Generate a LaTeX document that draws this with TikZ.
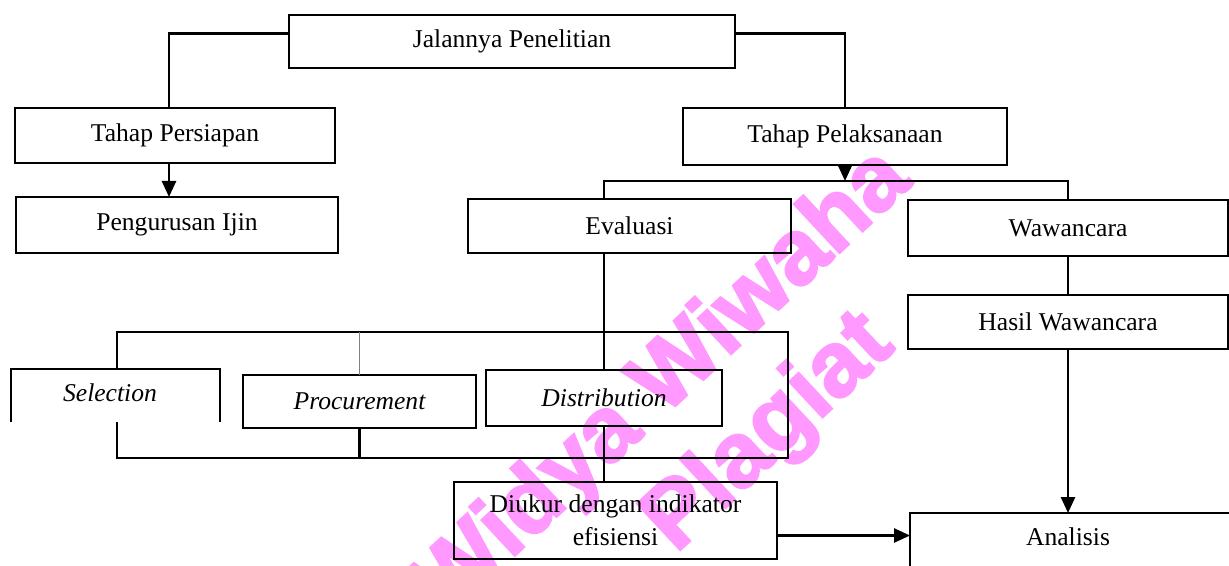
\documentclass[tikz,border=0pt]{standalone}
\usepackage{fontspec}
\setmainfont{Liberation Serif}
\newfontfamily\wmfont[BoldFeatures={FakeBold=2.5}]{Liberation Sans}
\usetikzlibrary{arrows.meta,calc}
\definecolor{wm}{RGB}{255,153,255}
\begin{document}
\begin{tikzpicture}[x=0.5pt,y=-0.5pt, line width=1.3pt,
  box/.style={draw, rectangle, inner sep=0pt, outer sep=0pt, align=center, font=\fontsize{12.8}{16.5}\selectfont},
  lbl/.style={inner sep=0pt, font=\fontsize{12.8}{16.5}\selectfont},
  arr/.style={-{Triangle[length=8pt,width=7pt]}},
  wmtext/.style={inner sep=0pt, text=wm, font=\wmfont\bfseries\fontsize{46}{52}\selectfont}
]
\useasboundingbox (0,0) rectangle (1229,566);
% watermark
\node[wmtext, rotate=43] (w1) at (664,384) {Widya Wiwaha};
\node[wmtext, rotate=43] (w2) at (770,434) {Plagiat};
% boxes
\node[box, minimum width=223pt, minimum height=26.5pt] (jal) at (512,41.5) {Jalannya Penelitian};
\node[box, minimum width=160pt, minimum height=27.5pt] (tp) at (175,135.5) {Tahap Persiapan};
\node[box, minimum width=161pt, minimum height=28pt] (pi) at (177,225) {Pengurusan Ijin};
\node[box, minimum width=162pt, minimum height=28.5pt] (tpl) at (845,136.5) {Tahap Pelaksanaan};
\node[box, minimum width=161.5pt, minimum height=27pt] (ev) at (629.5,226) {Evaluasi};
\node[box, minimum width=160pt, minimum height=28pt] (ww) at (1068,228) {Wawancara};
\node[box, minimum width=160pt, minimum height=27pt] (hw) at (1068,322) {Hasil Wawancara};
\node[box, anchor=north west, minimum width=165pt, minimum height=45pt] (anbox) at (910,513) {};
\node[lbl] (an) at (1068,537) {Analisis};
\node[box, minimum width=161.5pt, minimum height=38.5pt] (di) at (615.5,520.5) {Diukur dengan indikator\\efisiensi};
\node[box, minimum width=116.5pt, minimum height=26.5pt] (pr) at (359.5,401.5) {\itshape Procurement};
\node[box, minimum width=118pt, minimum height=28pt] (ds) at (604,398) {\itshape Distribution};
\node[lbl] (sel) at (110,393) {\itshape Selection};
\draw (11,422) |- (220,369) -- (220,422);
% group frame
\coordinate (bt) at (117,332);
\coordinate (bb) at (117,458);
\draw (117,369) -- (bt) -- (788,332) -- (788,458) -- (bb) -- (117,422);
\draw[line width=0.4pt, gray] (pr.north) -- (pr.north |- bt);
\draw (pr.south) -- (pr.south |- bb);
% connectors
\draw ([yshift=4pt]jal.west) -| ([xshift=-3pt]tp.north);
\draw[arr] ([xshift=-3pt]tp.south) -- ([xshift=-3pt]tp.south |- pi.north);
\draw ([yshift=4pt]jal.east) -| (tpl.north);
\coordinate (bus) at (845,181);
\draw (ds.north |- ev.north) |- (bus) -| (ww.north);
\draw[arr] (tpl.south) -- (bus);
\draw (ds.north |- ev.south) -- (ds.north);
\draw (ds.south) -- (ds.south |- di.north);
\draw (ww.south) -- (hw.north);
\draw[arr] (hw.south) -- (hw.south |- anbox.north);
\draw[arr] ([yshift=-7.5pt]di.east) -- ([yshift=-7.5pt]di.east -| anbox.west);
\end{tikzpicture}
\end{document}
